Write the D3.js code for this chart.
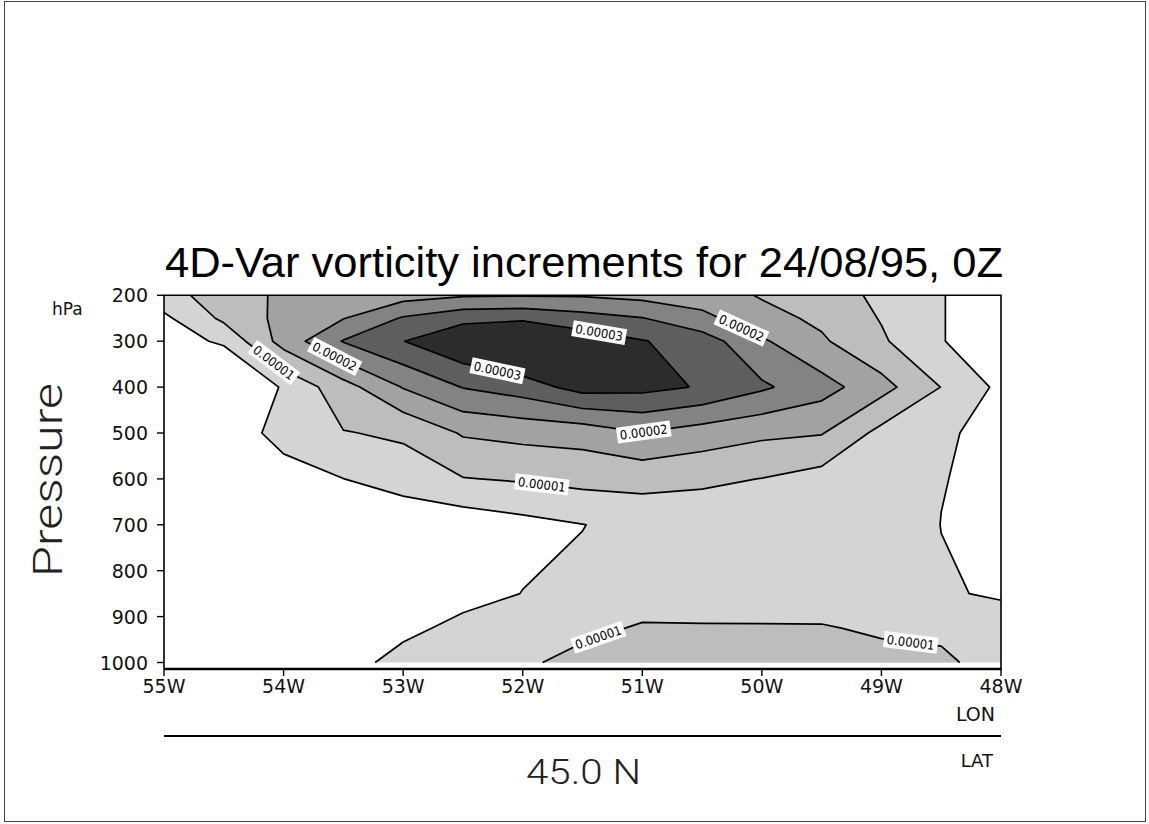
<!DOCTYPE html>
<html>
<head>
<meta charset="utf-8">
<title>4D-Var vorticity increments</title>
<script src="https://cdn.jsdelivr.net/npm/d3@7/dist/d3.min.js"></script>
<style>
  html, body { margin: 0; padding: 0; background: #fff; }
  svg { display: block; }
</style>
</head>
<body>
<svg id="chart" width="1149" height="824"></svg>
<script>
// Cross-section grid: longitude columns (negative = west) and pressure rows (hPa)
const lons = [-55, -54.5, -54, -53.5, -53, -52.5, -52, -51.5, -51, -50.5, -50, -49.5, -49, -48.5, -48];
const levels = [200, 250, 300, 400, 500, 600, 700, 850, 925, 1000];

// Vorticity increment along 45.0N, in 1e-6 s^-1, one array per pressure level
const zeta200  = [8, 12.5, 15.9, 18, 18, 19.5, 19.7, 19.6, 18.5, 17.5, 14.6, 12.5, 8.9, 5.15, 3];
const zeta250  = [4, 11, 16.5, 19.8, 25.5, 28.5, 29, 27, 25.2, 21.4, 16.7, 14, 9.7, 5.15, 3];
const zeta300  = [2, 6, 17, 25.3, 29.9, 34.5, 38, 33, 30.3, 27.5, 20.7, 15.7, 10.7, 5.15, 3];
const zeta400  = [0, -4, 5.8, 13, 20.3, 25.2, 27.5, 32, 31.5, 29.6, 25.8, 22, 16.8, 9.9, 3.85];
const zeta500  = [-1, 1.5, 7, 9.8, 10.6, 15.5, 16.5, 17, 19.8, 17.7, 16, 15.3, 8.5, 7, 0.6];
const zeta600  = [-1, 0, 2.6, 4.95, 8, 9.8, 10.5, 11.5, 11.7, 11, 9.9, 8, 7.5, 5.13, 4.1];
const zeta700  = [-1, -1, -1, 1, 0, 1.9, 3.5, 4.9, 6.5, 6.5, 7.5, 7.5, 7.5, 4.95, 4];
const zeta850  = [-1, -1, -1, 0, 0, 3, 5.1, 6, 7, 7.5, 8, 8.5, 8.5, 5.35, 4.6];
const zeta925  = [-1, -1, 0, 0.5, 3.5, 6.6, 7.5, 8.5, 10.6, 10.4, 10.3, 10.2, 9.6, 9.0, 6.7];
const zeta1000 = [-1, 0, 0, 2.5, 7.2, 8, 9, 12, 12, 12, 11.5, 11, 10.9, 10.9, 8];

// Contour levels (1e-6 s^-1)
const contourLevels = [5, 10, 15, 20, 25, 30];
// Labelled lines: [level, lon, hPa] near which the label is placed
const contourLabels = [
  [10, -54.09, 350], [20, -53.57, 332], [30, -52.21, 363], [30, -51.36, 280],
  [20, -50.16, 265], [20, -50.99, 493], [10, -51.84, 611], [10, -51.36, 951], [10, -48.76, 966]
];
const lonTicks = [-55, -54, -53, -52, -51, -50, -49, -48];
const pTicks = [200, 300, 400, 500, 600, 700, 800, 900, 1000];
const titleText = "4D-Var vorticity increments for 24/08/95, 0Z";
const latText = "45.0 N";

const svg = d3.select("#chart");
svg.append("rect").attr("width", 1149).attr("height", 824).attr("fill", "#fff");
// page border
svg.append("rect").attr("x", 4.5).attr("y", 1.5).attr("width", 1141).attr("height", 820)
  .attr("fill", "none").attr("stroke", "#444").attr("stroke-width", 1);

const L = 164, R = 1001, T = 295.3, B = 662.5, FB = 669;
const x = d3.scaleLinear().domain([-55, -48]).range([L, R]);
const y = d3.scaleLinear().domain([200, 1000]).range([T, B]);

const nx = lons.length, ny = levels.length;
const field = [zeta200, zeta250, zeta300, zeta400, zeta500, zeta600, zeta700, zeta850, zeta925, zeta1000];
const values = field.flat();
const lonOf = d3.scaleLinear().domain(d3.range(nx)).range(lons);
const pOf = d3.scaleLinear().domain(d3.range(ny)).range(levels);
const clamp = (v, lo, hi) => Math.max(lo, Math.min(hi, v));

// contour grid coordinates -> pixels (grid values sit at cell centres)
function project(pt) {
  const gx = clamp(pt[0] - 0.5, 0, nx - 1), gy = clamp(pt[1] - 0.5, 0, ny - 1);
  return { px: x(lonOf(gx)), py: y(pOf(gy)), gx, gy };
}

const bands = d3.contours().size([nx, ny]).thresholds(contourLevels)(values);
const shades = ["#d4d4d4", "#bdbdbd", "#a2a2a2", "#838383", "#5e5e5e", "#2c2c2c"];

const gFill = svg.append("g");
bands.forEach((b, i) => {
  const d = b.coordinates.map(poly => poly.map(ring =>
    "M" + ring.map(p => { const q = project(p); return q.px.toFixed(2) + "," + q.py.toFixed(2); }).join("L") + "Z"
  ).join("")).join("");
  gFill.append("path").attr("d", d).attr("fill", shades[i]).attr("fill-rule", "evenodd");
});

// contour lines, leaving out the pieces that run along the grid edge
const onEdge = (a, c) => (a.gx === 0 && c.gx === 0) || (a.gx === nx - 1 && c.gx === nx - 1) ||
  (a.gy === 0 && c.gy === 0) || (a.gy === ny - 1 && c.gy === ny - 1);
const gLines = svg.append("g");
const segsByLevel = new Map();
bands.forEach(b => {
  let d = "";
  const segs = [];
  b.coordinates.forEach(poly => poly.forEach(ring => {
    const pts = ring.map(project);
    const f = pts[0], l = pts[pts.length - 1];
    if (f.px !== l.px || f.py !== l.py) pts.push(f);
    let pen = false;
    for (let i = 0; i < pts.length - 1; i++) {
      const a = pts[i], c = pts[i + 1];
      if (onEdge(a, c)) { pen = false; continue; }
      if (!pen) { d += `M${a.px.toFixed(2)},${a.py.toFixed(2)}`; pen = true; }
      d += `L${c.px.toFixed(2)},${c.py.toFixed(2)}`;
      segs.push([a, c]);
    }
  }));
  segsByLevel.set(b.value, segs);
  gLines.append("path").attr("d", d).attr("fill", "none").attr("stroke", "#000")
    .attr("stroke-width", 1.7).attr("stroke-linejoin", "round");
});

// value labels on the contour lines
const gLab = svg.append("g");
const fmt = d3.format(".5f");
contourLabels.forEach(([lev, lon, p]) => {
  const tx = x(lon), ty = y(p);
  let best = null, bd = Infinity;
  for (const [a, c] of segsByLevel.get(lev) || []) {
    const dx = c.px - a.px, dy = c.py - a.py;
    const len2 = dx * dx + dy * dy || 1;
    const t = clamp(((tx - a.px) * dx + (ty - a.py) * dy) / len2, 0, 1);
    const qx = a.px + t * dx, qy = a.py + t * dy;
    const dist = (qx - tx) ** 2 + (qy - ty) ** 2;
    if (dist < bd) { bd = dist; best = { qx, qy, ang: Math.atan2(dy, dx) * 180 / Math.PI }; }
  }
  if (!best) return;
  let ang = best.ang;
  if (ang > 90) ang -= 180;
  if (ang < -90) ang += 180;
  const g = gLab.append("g").attr("transform", `translate(${best.qx.toFixed(2)},${best.qy.toFixed(2)}) rotate(${ang.toFixed(1)})`);
  g.append("rect").attr("x", -27).attr("y", -8).attr("width", 54).attr("height", 16).attr("fill", "#fff");
  g.append("text").attr("text-anchor", "middle").attr("dy", "0.36em")
    .attr("font-family", "DejaVu Sans, sans-serif").attr("font-size", 12.5).attr("fill", "#000")
    .attr("textLength", 48).attr("lengthAdjust", "spacingAndGlyphs")
    .text(fmt(lev * 1e-6));
});

// frame
svg.append("path")
  .attr("d", `M${L},${T}H${R}V${FB}H${L}Z`)
  .attr("fill", "none").attr("stroke", "#000").attr("stroke-width", 1.6);
svg.append("line").attr("x1", L).attr("x2", R).attr("y1", FB).attr("y2", FB)
  .attr("stroke", "#000").attr("stroke-width", 2.4);

// pressure axis
const gy = svg.append("g");
pTicks.forEach(p => {
  gy.append("line").attr("x1", L - 7).attr("x2", L).attr("y1", y(p)).attr("y2", y(p))
    .attr("stroke", "#000").attr("stroke-width", 1.4);
  gy.append("text").attr("x", 148).attr("y", y(p) + 7).attr("text-anchor", "end")
    .attr("font-family", "DejaVu Sans, sans-serif").attr("font-size", 19).attr("fill", "#111")
    .text(p);
});
svg.append("text").attr("x", 52).attr("y", 315)
  .attr("font-family", "DejaVu Sans, sans-serif").attr("font-size", 17).attr("fill", "#111").text("hPa");
svg.append("text").attr("transform", "translate(62,480) rotate(-90)").attr("text-anchor", "middle")
  .attr("font-family", "Roboto, DejaVu Sans, sans-serif").attr("font-weight", 300).attr("font-size", 40)
  .attr("textLength", 194).attr("lengthAdjust", "spacingAndGlyphs").attr("fill", "#222").text("Pressure");

// longitude axis
const gx = svg.append("g");
lonTicks.forEach(lon => {
  gx.append("line").attr("x1", x(lon)).attr("x2", x(lon)).attr("y1", FB).attr("y2", FB + 7)
    .attr("stroke", "#000").attr("stroke-width", 1.4);
  gx.append("text").attr("x", x(lon)).attr("y", 693).attr("text-anchor", "middle")
    .attr("font-family", "DejaVu Sans, sans-serif").attr("font-size", 19).attr("fill", "#111")
    .text(`${Math.abs(lon)}W`);
});
svg.append("text").attr("x", R - 6).attr("y", 721).attr("text-anchor", "end")
  .attr("font-family", "DejaVu Sans, sans-serif").attr("font-size", 19).attr("fill", "#111").text("LON");
svg.append("line").attr("x1", L).attr("x2", R).attr("y1", 736).attr("y2", 736)
  .attr("stroke", "#000").attr("stroke-width", 2);
svg.append("text").attr("x", R - 8).attr("y", 767).attr("text-anchor", "end")
  .attr("font-family", "DejaVu Sans, sans-serif").attr("font-size", 18).attr("fill", "#111").text("LAT");
svg.append("text").attr("x", 526).attr("y", 784)
  .attr("font-family", "Roboto, DejaVu Sans, sans-serif").attr("font-weight", 300).attr("font-size", 35)
  .attr("textLength", 115).attr("lengthAdjust", "spacingAndGlyphs").attr("fill", "#222").text(latText);

// title
svg.append("text").attr("x", 165).attr("y", 277)
  .attr("font-family", "Liberation Sans, Arial, sans-serif").attr("font-size", 42)
  .attr("textLength", 838).attr("lengthAdjust", "spacingAndGlyphs").attr("fill", "#000").text(titleText);
</script>
</body>
</html>
